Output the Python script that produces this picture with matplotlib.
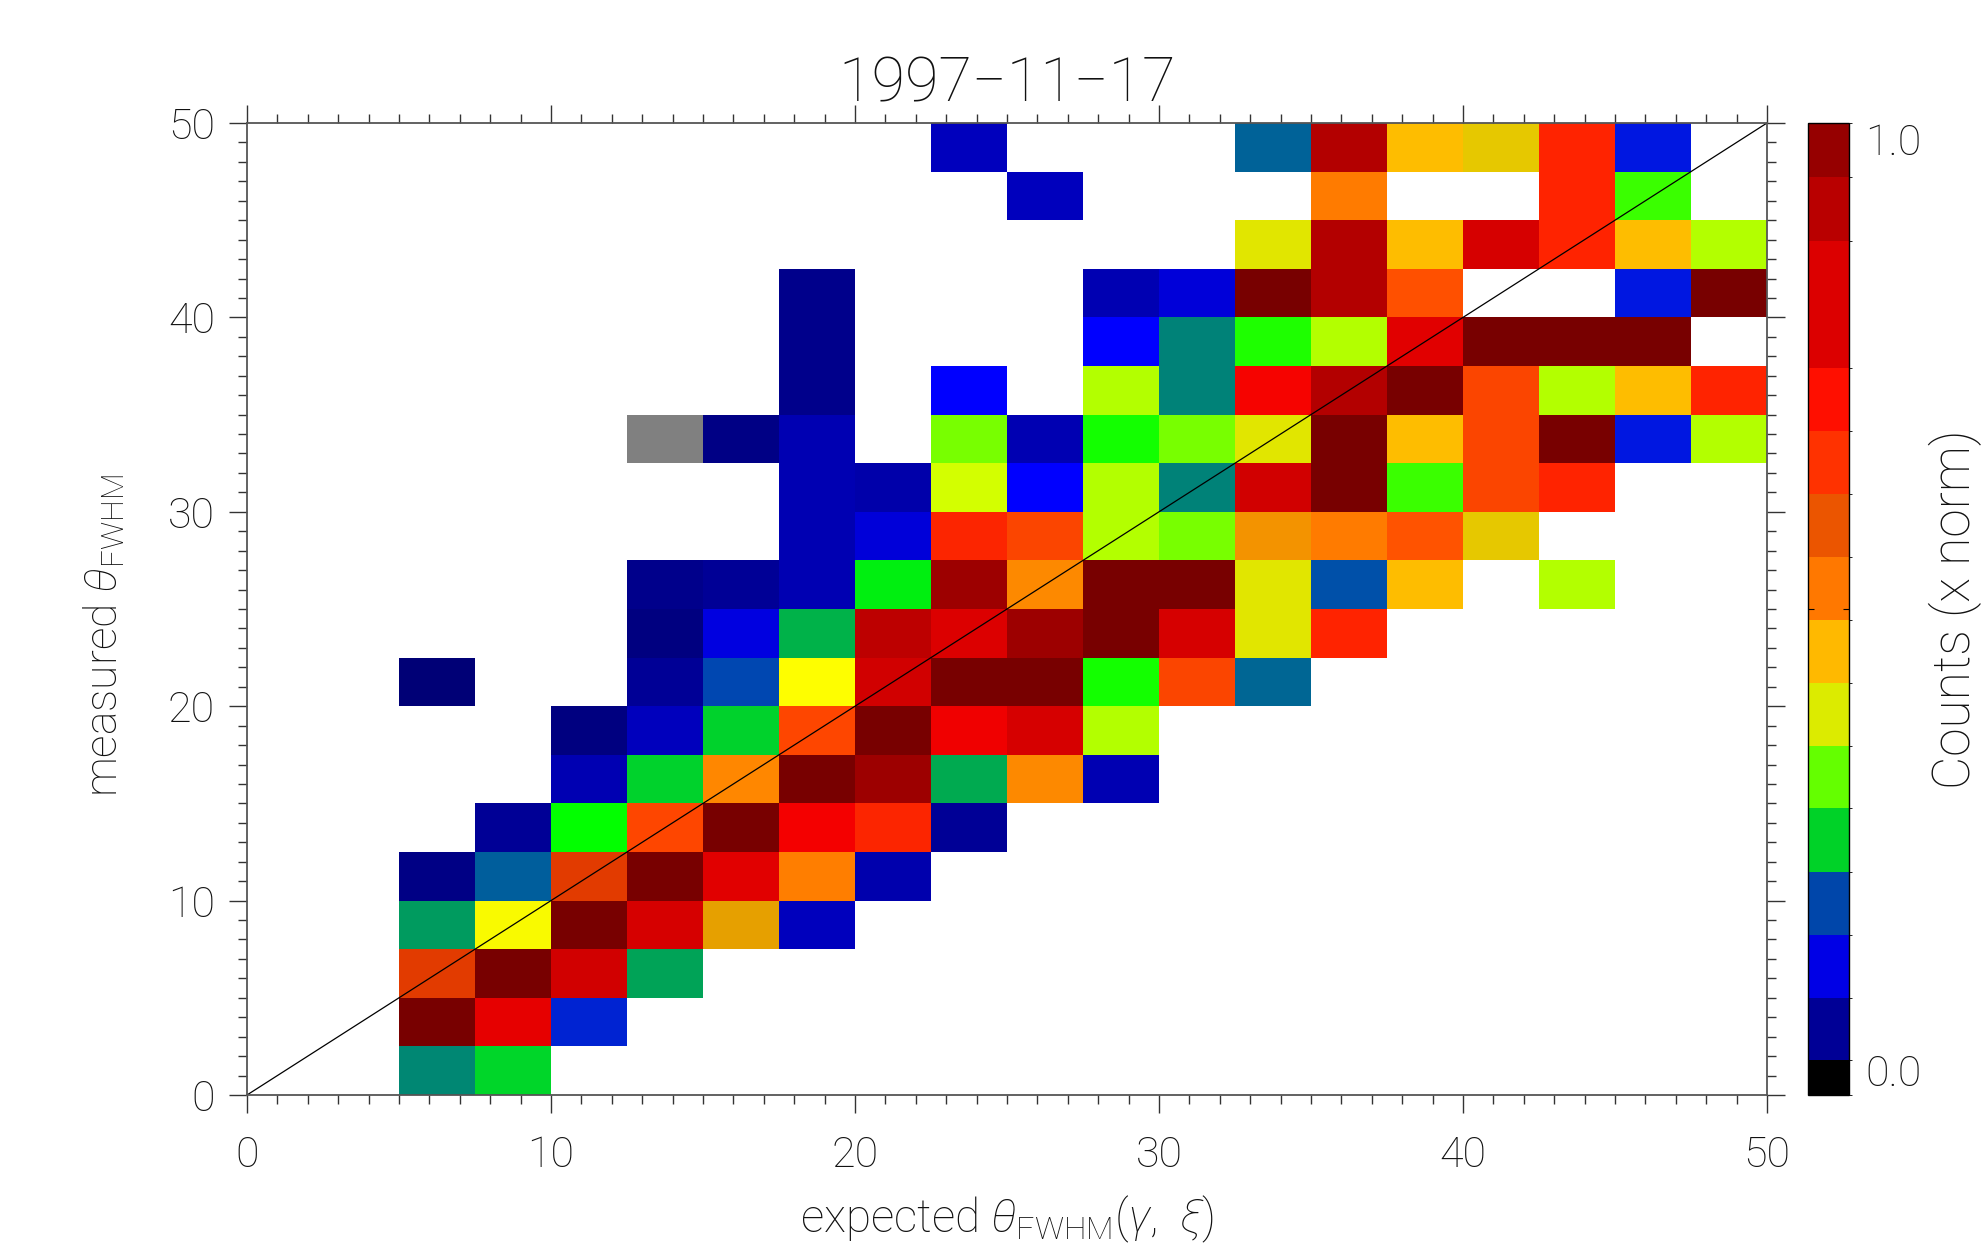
import numpy as np
import matplotlib
matplotlib.use("Agg")
import matplotlib.pyplot as plt
from matplotlib.colors import LinearSegmentedColormap, ListedColormap, BoundaryNorm, Normalize
from matplotlib.cm import ScalarMappable
from matplotlib.ticker import MultipleLocator

N = np.nan

### bins (2.5 deg) of expected / measured theta_FWHM
x_edges = np.linspace(0, 50, 21)
y_edges = np.linspace(0, 50, 21)

### counts per bin, scale 0..24 ; row 0 = bottom ; -1 = flagged bin (grey)
row00 = [N, N, 6, 8, N, N, N, N, N, N, N, N, N, N, N, N, N, N, N, N]
row01 = [N, N, 24, 21.5, 4, N, N, N, N, N, N, N, N, N, N, N, N, N, N, N]
row02 = [N, N, 19, 24, 22.15, 6.8, N, N, N, N, N, N, N, N, N, N, N, N, N, N]
row03 = [N, N, 6.6, 12.2, 24, 22, 16, 2.13, N, N, N, N, N, N, N, N, N, N, N, N]
row04 = [N, N, 1.25, 5, 19, 24, 21.65, 17.15, 1.9, N, N, N, N, N, N, N, N, N, N, N]
row05 = [N, N, N, 1.5, 9, 18, 24, 21, 19.9, 1.5, N, N, N, N, N, N, N, N, N, N]
row06 = [N, N, N, N, 2, 7.9, 17, 24, 23.35, 7, 16.9, 2, N, N, N, N, N, N, N, N]
row07 = [N, N, N, N, 1.17, 2.13, 7.9, 18, 24, 21.15, 22, 11, N, N, N, N, N, N, N, N]
row08 = [N, N, 1, N, N, 1.5, 4.6, 12, 22.15, 24, 24, 9.17, 18.1, 5.2, N, N, N, N, N, N]
row09 = [N, N, N, N, N, 1.17, 2.6, 7.2, 22.7, 21.8, 23.35, 24, 22, 13, 20, N, N, N, N, N]
row10 = [N, N, N, N, N, 1.33, 1.5, 2, 8.6, 23.35, 16.9, 24, 24, 13, 4.75, 15, N, 11, N, N]
row11 = [N, N, N, N, N, N, N, 2, 2.5, 19.9, 18.1, 11, 10, 16.5, 17.2, 17.8, 14, N, N, N]
row12 = [N, N, N, N, N, N, N, 2, 1.83, 11.4, 3, 11, 5.9, 22.15, 24, 9.5, 18.1, 20, N, N]
row13 = [N, N, N, N, N, -1, 1.25, 2, N, 10, 2, 9.17, 10, 13, 24, 15, 18.1, 24, 3.7, 11]
row14 = [N, N, N, N, N, N, N, 1.33, N, 3, N, 11, 5.9, 20.9, 23, 24, 18.1, 11, 15, 20]
row15 = [N, N, N, N, N, N, N, 1.33, N, N, N, 3, 5.9, 9.25, 11, 21.65, 24, 24, 24, N]
row16 = [N, N, N, N, N, N, N, 1.33, N, N, N, 2, 2.5, 24, 23, 17.85, N, N, 3.7, 24]
row17 = [N, N, N, N, N, N, N, N, N, N, N, N, N, 13, 23, 15, 22, 20, 15, 11]
row18 = [N, N, N, N, N, N, N, N, N, N, 2.13, N, N, N, 17.2, N, N, 20, 9.5, N]
row19 = [N, N, N, N, N, N, N, N, N, 2.13, N, N, N, 5.1, 23, 15, 14, 20, 3.7, N]

counts = np.array([row00, row01, row02, row03, row04, row05, row06, row07, row08, row09,
                   row10, row11, row12, row13, row14, row15, row16, row17, row18, row19])

### colour table of the cells
cell_colors = [
  (0, 0, 0), (0, 0, 120), (0, 0, 180), (0, 0, 255), (0, 35, 210), (0, 95, 155),
  (0, 135, 115), (0, 170, 80), (0, 215, 40), (0, 255, 0), (120, 255, 0), (180, 255, 0),
  (255, 255, 0), (225, 230, 0), (230, 200, 0), (255, 190, 0), (230, 160, 0), (255, 135, 0),
  (255, 70, 0), (225, 60, 0), (255, 35, 0), (245, 0, 0), (215, 0, 0), (180, 0, 0), (120, 0, 0)
]
cell_cmap = LinearSegmentedColormap.from_list(
  "cells", [tuple(c / 255 for c in rgb) for rgb in cell_colors], N=512)
cell_cmap.set_under("#808080")
cell_cmap.set_bad((1, 1, 1, 0))

### colour bar levels
cb_bounds = [0, 0.036, 0.0997, 0.165, 0.2295, 0.295, 0.359, 0.424, 0.4885,
             0.554, 0.618, 0.683, 0.7475, 0.879, 0.944, 1.0]
cb_colors = ["#000000", "#000096", "#0000e6", "#0046aa", "#00d228", "#64ff00",
             "#dceb00", "#ffb900", "#ff7800", "#eb5500", "#ff3200", "#ff0f00",
             "#dc0000", "#b90000", "#960000"]

fam = ["Roboto", "DejaVu Sans"]
thin = dict(family=fam, fontweight="light", color="#111111")
plt.rcParams["mathtext.fontset"] = "custom"
plt.rcParams["mathtext.rm"] = "Roboto:light"
plt.rcParams["mathtext.it"] = "Roboto:italic:light"
plt.rcParams["mathtext.bf"] = "Roboto:bold"

W, H = 1983, 1251
fig = plt.figure(figsize=(W / 100, H / 100), dpi=100)
ax = fig.add_axes([247 / W, 1 - 1095 / H, 1520 / W, 972 / H])
cax = fig.add_axes([1808 / W, 1 - 1095 / H, 41 / W, 972 / H])

ax.pcolormesh(x_edges, y_edges, np.ma.masked_invalid(counts),
              cmap=cell_cmap, norm=Normalize(0, 24))
ax.plot([0, 50], [0, 50], color="black", lw=0.9)

ax.set_xlim(0, 50)
ax.set_ylim(0, 50)
ax.set_xticks(range(0, 51, 10))
ax.set_yticks(range(0, 51, 10))
ax.xaxis.set_minor_locator(MultipleLocator(1))
ax.yaxis.set_minor_locator(MultipleLocator(1))
ax.tick_params(which="both", direction="out", top=True, right=True,
               labeltop=False, labelright=False, color="#333333", width=1)
ax.tick_params(which="major", length=13, labelsize=31, pad=10, labelcolor="#111111")
ax.tick_params(axis="x", which="major", pad=16)
ax.tick_params(which="minor", length=6.5)
for lab in ax.get_xticklabels() + ax.get_yticklabels():
  lab.set_family(fam)
  lab.set_fontweight("light")
for s in ax.spines.values():
  s.set_color("#555555")
  s.set_linewidth(1.3)

fig.text(1007 / W, 1 - 101 / H, "1997\u221211\u221217", ha="center", va="baseline",
         fontsize=44, **thin)
fig.text(1007 / W, 1 - 1232 / H, r"expected $\theta_{\mathrm{FWHM}}(\gamma,\ \xi)$",
         ha="center", va="baseline", fontsize=33, **thin)
fig.text(104 / W, 1 - 635 / H, r"measured $\theta_{\mathrm{FWHM}}$", rotation=90,
         ha="center", va="center", fontsize=32, **thin)

sm = ScalarMappable(norm=BoundaryNorm(cb_bounds, len(cb_colors)), cmap=ListedColormap(cb_colors))
cb = fig.colorbar(sm, cax=cax, spacing="proportional")
cb.outline.set_linewidth(1)
cax.yaxis.set_ticks([0.5])
cax.tick_params(direction="in", length=4, left=True, right=True,
                labelleft=False, labelright=False)
cax.text(1.4, 1.0, "1.0", transform=cax.transAxes, ha="left", va="top", fontsize=31, **thin)
cax.text(1.4, 0.0, "0.0", transform=cax.transAxes, ha="left", va="bottom", fontsize=31, **thin)
fig.text(1955 / W, 1 - 609 / H, "Counts (x norm)", rotation=90, ha="center", va="center",
         fontsize=37, **thin)

fig.savefig("out.png", dpi=100)
